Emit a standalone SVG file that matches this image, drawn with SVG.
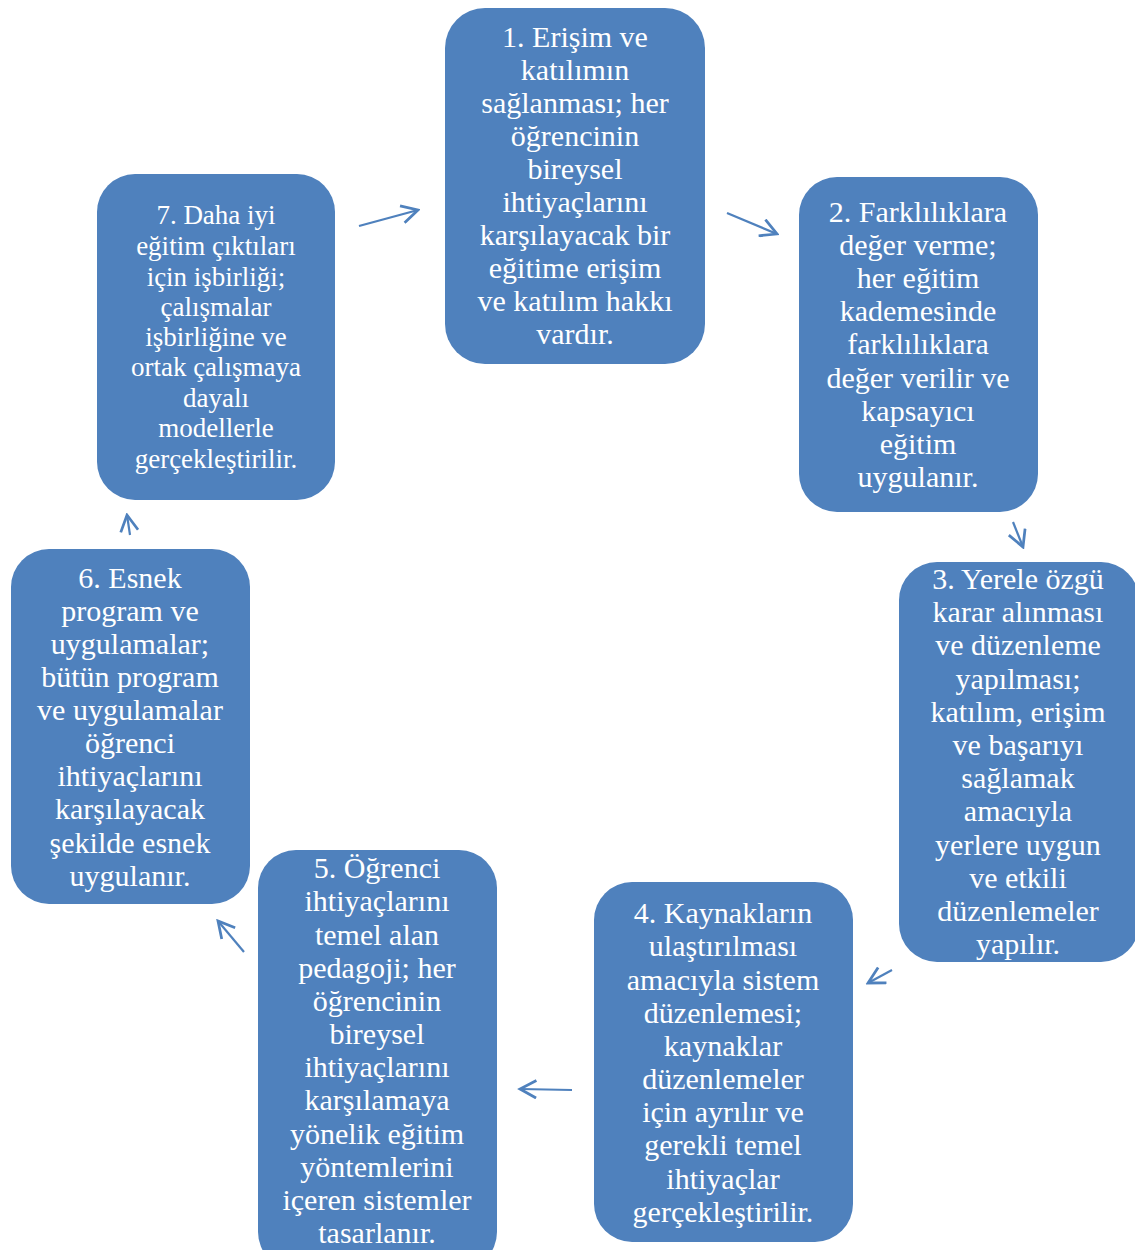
<svg xmlns="http://www.w3.org/2000/svg" width="1135" height="1250" viewBox="0 0 1135 1250">
<style>
.n{fill:#4F81BD;}
.t{font-family:"Liberation Serif","Times New Roman",serif;font-size:30px;fill:#fff;text-anchor:middle;}
.t7{font-size:27px;}
.c{stroke:#4F81BD;stroke-width:2.2;fill:none;marker-end:url(#ah);}
</style>
<defs>
<marker id="ah" markerUnits="userSpaceOnUse" markerWidth="20" markerHeight="20" refX="14" refY="8" viewBox="0 0 16 16" orient="auto">
<path d="M1,1 L14,8 L1,15" fill="none" stroke="#4F81BD" stroke-width="2.2" stroke-linejoin="miter"/>
</marker>
</defs>
<rect width="1135" height="1250" fill="#fff"/>
<g id="node1">
<rect class="n" x="445" y="8" width="260" height="356" rx="40"/>
<text class="t"><tspan x="575" y="47">1. Erişim ve</tspan><tspan x="575" y="80">katılımın</tspan><tspan x="575" y="113">sağlanması; her</tspan><tspan x="575" y="146">öğrencinin</tspan><tspan x="575" y="179">bireysel</tspan><tspan x="575" y="212">ihtiyaçlarını</tspan><tspan x="575" y="245">karşılayacak bir</tspan><tspan x="575" y="278">eğitime erişim</tspan><tspan x="575" y="311">ve katılım hakkı</tspan><tspan x="575" y="344">vardır.</tspan></text>
</g>
<g id="node2">
<rect class="n" x="799" y="177" width="239" height="335" rx="38"/>
<text class="t"><tspan x="918" y="222">2. Farklılıklara</tspan><tspan x="918" y="255">değer verme;</tspan><tspan x="918" y="288">her eğitim</tspan><tspan x="918" y="321">kademesinde</tspan><tspan x="918" y="354">farklılıklara</tspan><tspan x="918" y="388">değer verilir ve</tspan><tspan x="918" y="421">kapsayıcı</tspan><tspan x="918" y="454">eğitim</tspan><tspan x="918" y="487">uygulanır.</tspan></text>
</g>
<g id="node3">
<rect class="n" x="899" y="562" width="240" height="400" rx="38"/>
<text class="t"><tspan x="1018" y="589">3. Yerele özgü</tspan><tspan x="1018" y="622">karar alınması</tspan><tspan x="1018" y="655">ve düzenleme</tspan><tspan x="1018" y="689">yapılması;</tspan><tspan x="1018" y="722">katılım, erişim</tspan><tspan x="1018" y="755">ve başarıyı</tspan><tspan x="1018" y="788">sağlamak</tspan><tspan x="1018" y="821">amacıyla</tspan><tspan x="1018" y="855">yerlere uygun</tspan><tspan x="1018" y="888">ve etkili</tspan><tspan x="1018" y="921">düzenlemeler</tspan><tspan x="1018" y="954">yapılır.</tspan></text>
</g>
<g id="node4">
<rect class="n" x="594" y="882" width="259" height="360" rx="38"/>
<text class="t"><tspan x="723" y="923">4. Kaynakların</tspan><tspan x="723" y="956">ulaştırılması</tspan><tspan x="723" y="990">amacıyla sistem</tspan><tspan x="723" y="1023">düzenlemesi;</tspan><tspan x="723" y="1056">kaynaklar</tspan><tspan x="723" y="1089">düzenlemeler</tspan><tspan x="723" y="1122">için ayrılır ve</tspan><tspan x="723" y="1155">gerekli temel</tspan><tspan x="723" y="1189">ihtiyaçlar</tspan><tspan x="723" y="1222">gerçekleştirilir.</tspan></text>
</g>
<g id="node5">
<rect class="n" x="258" y="850" width="239" height="420" rx="38"/>
<text class="t"><tspan x="377" y="878">5. Öğrenci</tspan><tspan x="377" y="911">ihtiyaçlarını</tspan><tspan x="377" y="945">temel alan</tspan><tspan x="377" y="978">pedagoji; her</tspan><tspan x="377" y="1011">öğrencinin</tspan><tspan x="377" y="1044">bireysel</tspan><tspan x="377" y="1077">ihtiyaçlarını</tspan><tspan x="377" y="1110">karşılamaya</tspan><tspan x="377" y="1144">yönelik eğitim</tspan><tspan x="377" y="1177">yöntemlerini</tspan><tspan x="377" y="1210">içeren sistemler</tspan><tspan x="377" y="1243">tasarlanır.</tspan></text>
</g>
<g id="node6">
<rect class="n" x="11" y="549" width="239" height="355" rx="38"/>
<text class="t"><tspan x="130" y="588">6. Esnek</tspan><tspan x="130" y="621">program ve</tspan><tspan x="130" y="654">uygulamalar;</tspan><tspan x="130" y="687">bütün program</tspan><tspan x="130" y="720">ve uygulamalar</tspan><tspan x="130" y="753">öğrenci</tspan><tspan x="130" y="786">ihtiyaçlarını</tspan><tspan x="130" y="819">karşılayacak</tspan><tspan x="130" y="853">şekilde esnek</tspan><tspan x="130" y="886">uygulanır.</tspan></text>
</g>
<g id="node7">
<rect class="n" x="97" y="174" width="238" height="326" rx="38"/>
<text class="t t7"><tspan x="216" y="224">7. Daha iyi</tspan><tspan x="216" y="255">eğitim çıktıları</tspan><tspan x="216" y="286">için işbirliği;</tspan><tspan x="216" y="316">çalışmalar</tspan><tspan x="216" y="346">işbirliğine ve</tspan><tspan x="216" y="376">ortak çalışmaya</tspan><tspan x="216" y="407">dayalı</tspan><tspan x="216" y="437">modellerle</tspan><tspan x="216" y="468">gerçekleştirilir.</tspan></text>
</g>
<g id="connectors">
<line class="c" x1="359" y1="226" x2="418" y2="210"/>
<line class="c" x1="727" y1="213" x2="777" y2="234"/>
<line class="c" x1="1013" y1="522" x2="1023" y2="547"/>
<line class="c" x1="892" y1="970" x2="868" y2="983"/>
<line class="c" x1="572" y1="1090" x2="520" y2="1089"/>
<line class="c" x1="244" y1="952" x2="218" y2="921"/>
<line class="c" x1="130" y1="535" x2="127" y2="515"/>
</g>
</svg>
